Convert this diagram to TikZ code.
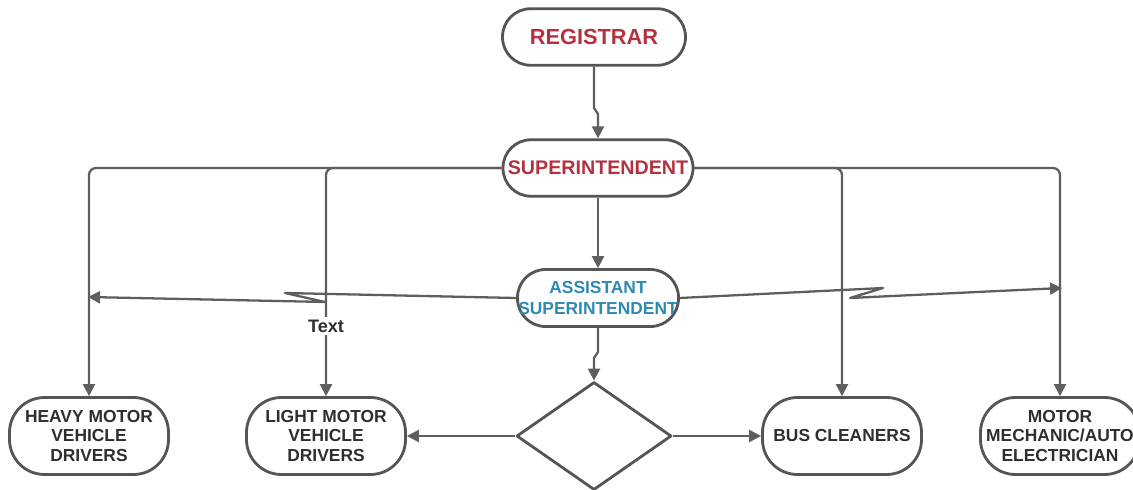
\documentclass[tikz,border=0pt]{standalone}
\usepackage{fontspec}
\setmainfont{Liberation Sans}
\usetikzlibrary{arrows.meta,shapes.geometric}

\definecolor{lngray}{HTML}{5E5E5E}
\definecolor{bdgray}{HTML}{555555}
\definecolor{txgray}{HTML}{2E2E2E}
\definecolor{hdred}{HTML}{B3323F}
\definecolor{asblue}{HTML}{2E8AB3}

\begin{document}
\begin{tikzpicture}[>={Triangle[length=2.4mm,width=2.4mm]},
 box/.style={draw=bdgray,line width=1.6pt,rounded corners=7mm,inner sep=0pt,align=center,
   text=txgray,font=\fontsize{9.9}{11}\selectfont\bfseries,minimum width=3.18cm,minimum height=1.54cm},
 head/.style={box,text=hdred,rounded corners=5.6mm,minimum height=1.13cm},
 ln/.style={draw=lngray,line width=1.3pt,line join=round,->},
 lbl/.style={fill=white,inner sep=1.5pt,text=txgray,font=\fontsize{10.3}{12}\selectfont\bfseries}]
\useasboundingbox (0,0) rectangle (22.66,9.78);
% top of the chain
\node[head,minimum width=3.66cm,font=\fontsize{12.4}{14}\selectfont\bfseries] (reg) at (11.88,9.04) {REGISTRAR};
\node[head,minimum width=3.8cm,font=\fontsize{11.2}{13}\selectfont\bfseries] (sup) at (11.96,6.42) {SUPERINTENDENT};
\node[head,text=asblue,minimum width=3.22cm,minimum height=1.14cm,font=\fontsize{9.9}{12}\selectfont\bfseries] (asst) at (11.96,3.82) {ASSISTANT\\SUPERINTENDENT};
% staff boxes
\node[box] (heavy) at (1.78,1.06) {HEAVY MOTOR\\VEHICLE\\DRIVERS};
\node[box] (light) at (6.52,1.06) {LIGHT MOTOR\\VEHICLE\\DRIVERS};
\node[draw=bdgray,line width=1.6pt,line join=round,diamond,minimum width=3.1cm,minimum height=2.16cm,inner sep=0pt] (dia) at (11.88,1.06) {};
\node[box] (bus) at (16.84,1.06) {BUS CLEANERS};
\node[box] (mech) at (21.2,1.06) {MOTOR\\MECHANIC/AUTO\\ELECTRICIAN};
% bends of the crossing lines
\coordinate (j1) at (11.88,7.62);
\coordinate (j2) at (11.96,2.74);
\coordinate (zl1) at (5.70,3.92);
\coordinate (zl2) at (6.50,3.74);
\coordinate (lft) at (1.76,3.84);
\coordinate (zr1) at (17.66,4.02);
\coordinate (zr2) at (17.00,3.82);
\coordinate (rgt) at (21.24,4.02);
% connectors
\draw[ln] (reg.south) -- (j1) -- ++(0.08,-0.12) -- (sup.north);
\draw[ln] (sup.south) -- (asst.north);
\draw[ln] (asst.south) -- (j2) -- ++(-0.08,-0.12) -- (dia.north);
\draw[ln,rounded corners=4pt] (sup.west) -| (heavy.north);
\draw[ln,rounded corners=4pt] (sup.west) -| (light.north);
\draw[ln,rounded corners=4pt] (sup.east) -| (bus.north);
\draw[ln,rounded corners=4pt] (sup.east) -| (mech.north);
\node[lbl] (txt) at (6.52,3.26) {Text};
\draw[ln] (asst.west) -- (zl1) -- (zl2) -- (lft);
\draw[ln] (asst.east) -- (zr1) -- (zr2) -- (rgt);
\draw[ln] (dia.west) -- (light.east);
\draw[ln] (dia.east) -- (bus.west);
\end{tikzpicture}
\end{document}
